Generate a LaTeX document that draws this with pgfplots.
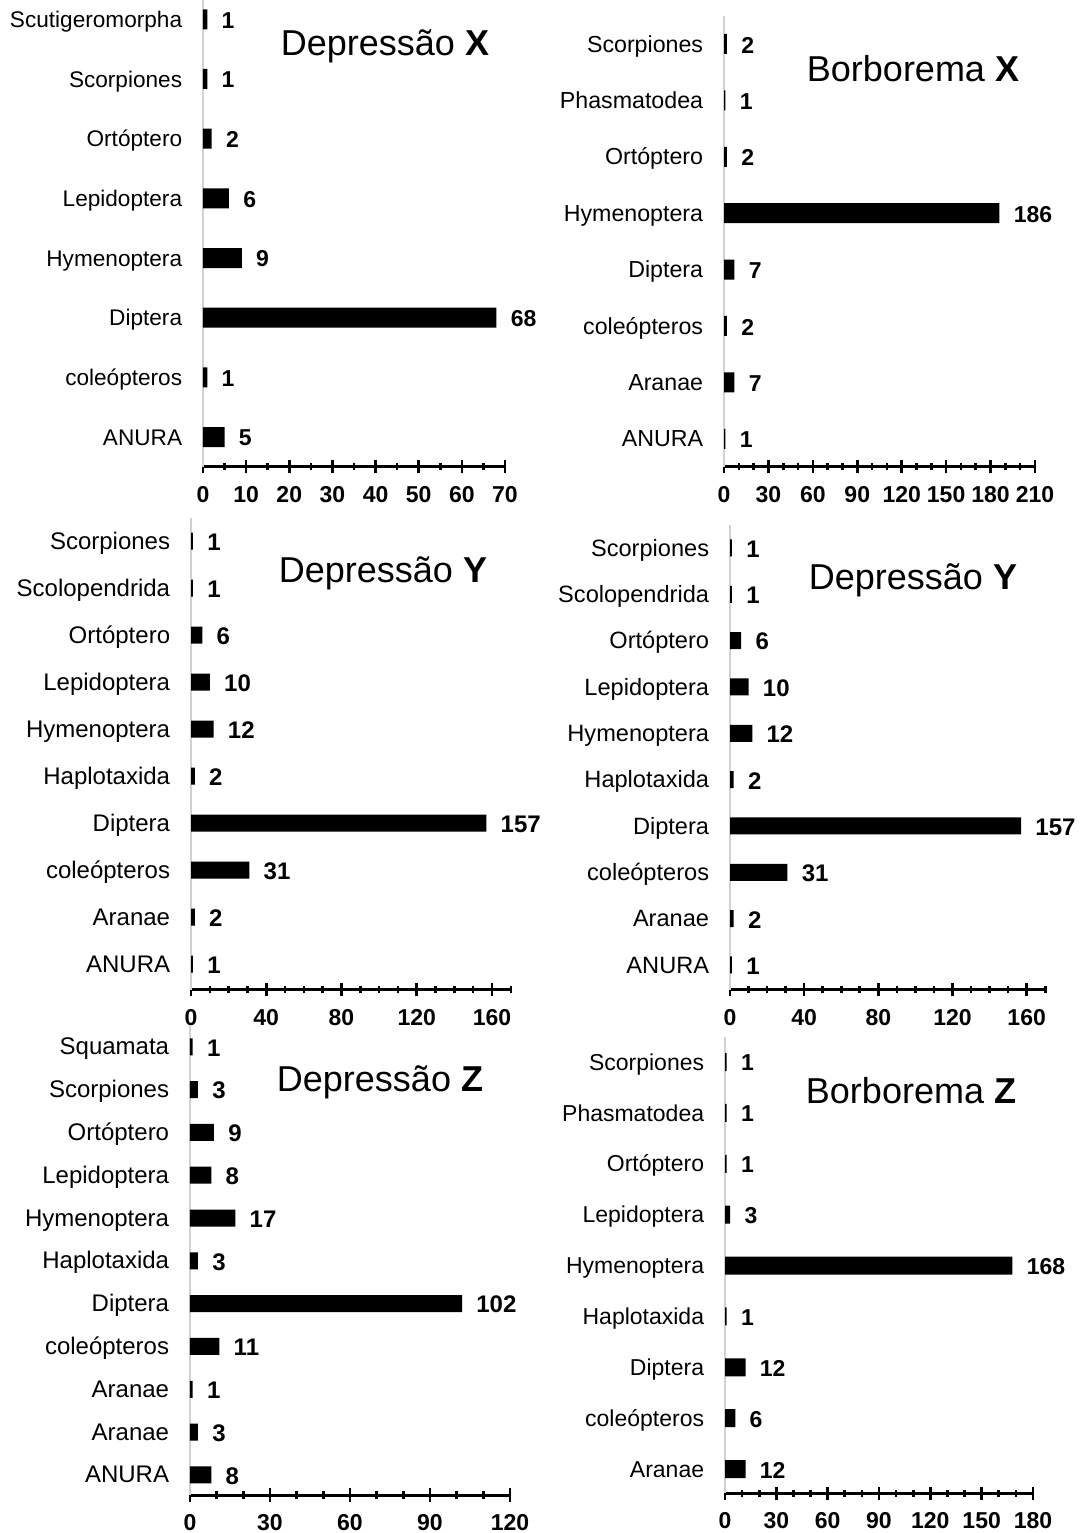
\documentclass[border=0pt]{standalone}
\usepackage{fontspec}
\setmainfont{Liberation Sans}
\usepackage{pgfplots}
\pgfplotsset{compat=1.18}
\pgfplotsset{
  myax/.style={
    scale only axis, xbar, clip=false, enlargelimits=false,
    axis x line=bottom, axis y line=left,
    x axis line style={-, line width=1.5pt, black},
    y axis line style={-, draw=black!18, line width=0.8pt},
    tick align=center,
    major tick length=6.5pt, minor tick length=3.5pt,
    xtick style={line width=1.3pt, black},
    ytick style={draw=none},
    /pgf/number format/assume math mode=true,
    yticklabel style={font=\fontsize{11.3}{13}\selectfont, inner sep=0pt, text height=8pt, text depth=2.5pt, xshift=-7pt, yshift=-1.3pt},
    xticklabel style={font=\bfseries\fontsize{11.5}{13}\selectfont, yshift=-3pt},
    nodes near coords,
    nodes near coords style={font=\bfseries\fontsize{11.5}{13}\selectfont, anchor=west, inner sep=0pt, xshift=7pt, yshift=-0.5pt},
  },
  labsize/.style={yticklabel style={font=\fontsize{#1}{14}\selectfont}},
  valsize/.style={nodes near coords style={font=\bfseries\fontsize{#1}{14}\selectfont}},
  mybar/.style={fill=black, draw=none}
}
\begin{document}
\begin{tikzpicture}
\path[use as bounding box] (0,0) rectangle (540.5pt,766.5pt);

% Panel 1: Depressao X
\begin{axis}[myax, at={(101.5pt,533pt)}, anchor=south west,
  width=151pt, height=238.8pt, xmin=0, xmax=70, ymin=-0.5, ymax=7.5,
  xtick={0,10,...,70}, minor xtick={5,15,...,65},
  ytick={0,...,7},
  yticklabels={ANURA,coleópteros,Diptera,Hymenoptera,Lepidoptera,Ortóptero,Scorpiones,Scutigeromorpha}]
\addplot[mybar, bar width=10pt] coordinates {(5,0) (1,1) (68,2) (9,3) (6,4) (2,5) (1,6) (1,7)};
\end{axis}

% Panel 2: Borborema X
\begin{axis}[myax, labsize=11.6, at={(362pt,533pt)}, anchor=south west,
  width=155.5pt, height=225.6pt, xmin=0, xmax=210, ymin=-0.5, ymax=7.5,
  xtick={0,30,...,210}, minor xtick={10,20,...,200},
  ytick={0,...,7},
  yticklabels={ANURA,Aranae,coleópteros,Diptera,Hymenoptera,Ortóptero,Phasmatodea,Scorpiones}]
\addplot[mybar, bar width=10pt] coordinates {(1,0) (7,1) (2,2) (7,3) (186,4) (2,5) (1,6) (2,7)};
\end{axis}

% Panel 3: Depressao Y (left)
\begin{axis}[myax, labsize=12, valsize=12, at={(95.5pt,271.5pt)}, anchor=south west,
  width=159.9pt, height=236.2pt, xmin=0, xmax=170, ymin=-0.55, ymax=9.5,
  xtick={0,40,...,160}, minor xtick={10,20,...,170},
  ytick={0,...,9},
  yticklabels={ANURA,Aranae,coleópteros,Diptera,Haplotaxida,Hymenoptera,Lepidoptera,Ortóptero,Scolopendrida,Scorpiones}]
\addplot[mybar, bar width=8.5pt] coordinates {(1,0) (2,1) (31,2) (157,3) (2,4) (12,5) (10,6) (6,7) (1,8) (1,9)};
\end{axis}

% Panel 4: Depressao Y (right)
\begin{axis}[myax, labsize=11.8, valsize=12, at={(365pt,271.5pt)}, anchor=south west,
  width=157.6pt, height=232.6pt, xmin=0, xmax=170, ymin=-0.54, ymax=9.5,
  xtick={0,40,...,160}, minor xtick={10,20,...,170},
  ytick={0,...,9},
  yticklabels={ANURA,Aranae,coleópteros,Diptera,Haplotaxida,Hymenoptera,Lepidoptera,Ortóptero,Scolopendrida,Scorpiones}]
\addplot[mybar, bar width=8.5pt] coordinates {(1,0) (2,1) (31,2) (157,3) (2,4) (12,5) (10,6) (6,7) (1,8) (1,9)};
\end{axis}

% Panel 5: Depressao Z
\begin{axis}[myax, labsize=12, valsize=12, at={(95pt,19pt)}, anchor=south west,
  width=160pt, height=234.8pt, xmin=0, xmax=120, ymin=-0.47, ymax=10.5,
  xtick={0,30,...,120}, minor xtick={10,20,...,110},
  ytick={0,...,10},
  yticklabels={ANURA,Aranae,Aranae,coleópteros,Diptera,Haplotaxida,Hymenoptera,Lepidoptera,Ortóptero,Scorpiones,Squamata}]
\addplot[mybar, bar width=8.5pt] coordinates {(8,0) (3,1) (1,2) (11,3) (102,4) (3,5) (17,6) (8,7) (9,8) (3,9) (1,10)};
\end{axis}

% Panel 6: Borborema Z
\begin{axis}[myax, labsize=11.5, at={(362.5pt,20pt)}, anchor=south west,
  width=154pt, height=228.2pt, xmin=0, xmax=180, ymin=-0.47, ymax=8.5,
  xtick={0,30,...,180}, minor xtick={10,20,...,170},
  ytick={0,...,8},
  yticklabels={Aranae,coleópteros,Diptera,Haplotaxida,Hymenoptera,Lepidoptera,Ortóptero,Phasmatodea,Scorpiones}]
\addplot[mybar, bar width=9pt] coordinates {(12,0) (6,1) (12,2) (1,3) (168,4) (3,5) (1,6) (1,7) (1,8)};
\end{axis}

% Titles
\node[font=\fontsize{18}{20}\selectfont] at (192.5pt,743.5pt) {Depressão \textbf{X}};
\node[font=\fontsize{18}{20}\selectfont] at (456.5pt,732pt) {Borborema \textbf{X}};
\node[font=\fontsize{18}{20}\selectfont] at (191.5pt,480pt) {Depressão \textbf{Y}};
\node[font=\fontsize{18}{20}\selectfont] at (456.5pt,476.5pt) {Depressão \textbf{Y}};
\node[font=\fontsize{18}{20}\selectfont] at (190pt,225.5pt) {Depressão \textbf{Z}};
\node[font=\fontsize{18}{20}\selectfont] at (455.5pt,221pt) {Borborema \textbf{Z}};
\end{tikzpicture}
\end{document}
